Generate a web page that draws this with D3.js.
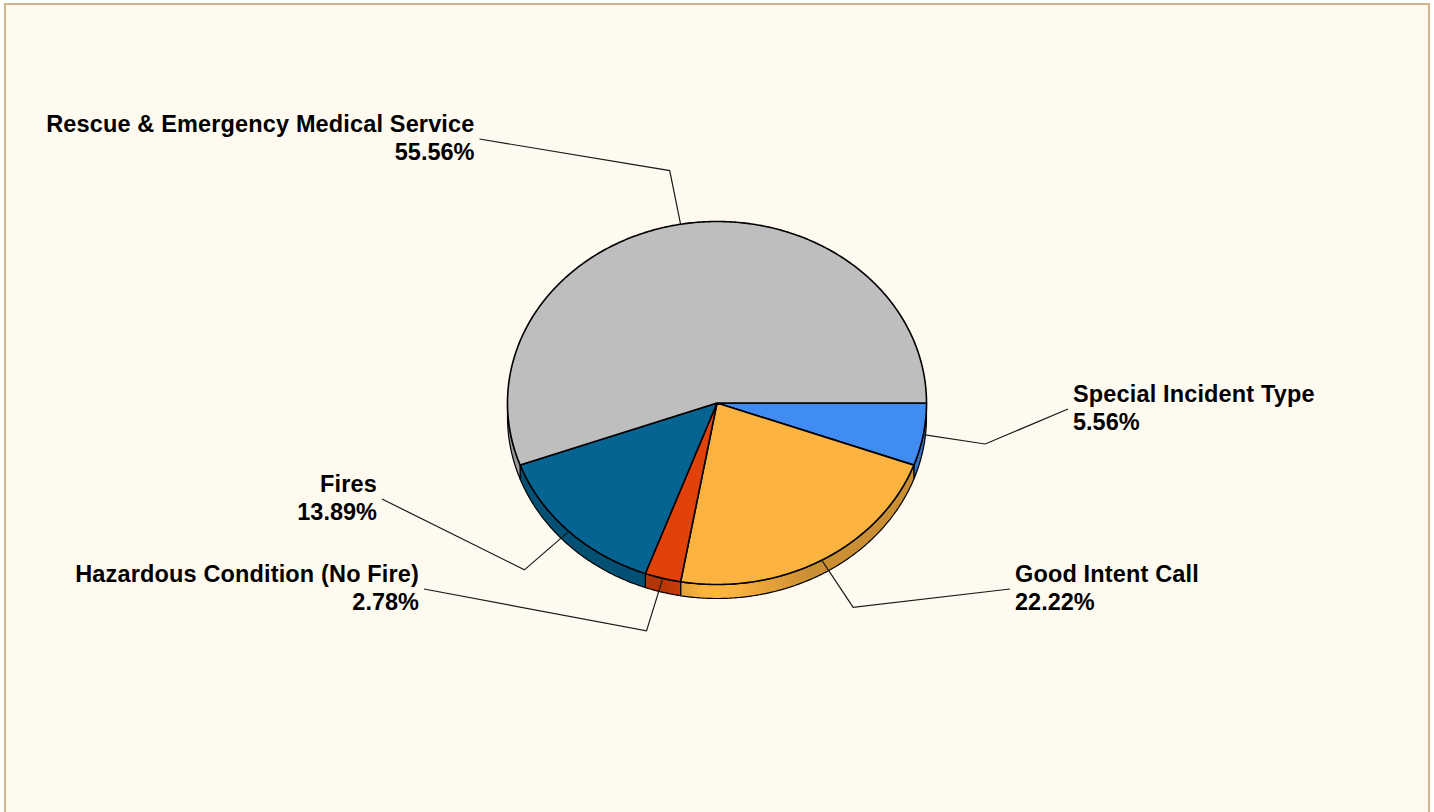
<!DOCTYPE html>
<html>
<head>
<meta charset="utf-8">
<script src="https://cdn.jsdelivr.net/npm/d3@7"></script>
<style>
    html, body { margin: 0; padding: 0; background: #fff; overflow: hidden; }
    svg { display: block; }
</style>
</head>
<body>
<svg id="chart"></svg>
<script>
// slices in drawing order, clockwise from 3 o'clock
const categories = ['Special Incident Type', 'Good Intent Call', 'Hazardous Condition (No Fire)', 'Fires', 'Rescue & Emergency Medical Service'];
const percents = [5.56, 22.22, 2.78, 13.89, 55.56];
const colors = ['#408cf2', '#fcb340', '#e0420a', '#056491', '#bebebe'];

// label anchors, separate from the data
const labelX = [1073, 1015, 419, 377, 474.5];
const labelY = [402, 582, 582, 492, 132];
const labelSide = ['start', 'start', 'end', 'end', 'end'];

const width = 1434, height = 812;
const depth = 14;
const elbow = 1.3;

const svg = d3.select('#chart').attr('width', width).attr('height', height);

svg.append('rect')
    .attr('x', 5).attr('y', 4)
    .attr('width', 1424).attr('height', 830)
    .attr('fill', '#fffaf0')
    .attr('stroke', '#d2b48c')
    .attr('stroke-width', 2);

const x = d3.scaleLinear().domain([-1, 1]).range([507.5, 926.5]);
const y = d3.scaleLinear().domain([-1, 1]).range([221.5, 584.5]);

const pie = d3.pie().sort(null).startAngle(Math.PI / 2).endAngle(Math.PI * 2.5);
const slices = pie(percents);

// d3 angles: 0 at 12 o'clock, clockwise
const px = (a, r = 1) => x(r * Math.sin(a));
const py = (a, r = 1) => y(-r * Math.cos(a));

function arcPoints(a0, a1) {
    const n = Math.max(2, Math.ceil((a1 - a0) / 0.01));
    return d3.range(n + 1).map(i => a0 + (a1 - a0) * i / n).map(a => [px(a), py(a)]);
}

const line = d3.line();
const defs = svg.append('defs');

// the rim is lit near the middle of the pie and falls off to both sides
const shadeStops = [[0, 0.2], [0.36, 0.2], [0.47, 0], [0.54, 0], [0.72, 0.2], [1, 0.2]];
slices.forEach((d, i) => {
    const grad = defs.append('linearGradient')
        .attr('id', 'rim' + i)
        .attr('gradientUnits', 'userSpaceOnUse')
        .attr('x1', x(-1)).attr('x2', x(1))
        .attr('y1', 0).attr('y2', 0);
    shadeStops.forEach(s => {
        grad.append('stop')
            .attr('offset', s[0])
            .attr('stop-color', d3.interpolateRgb(colors[i], '#000')(s[1]));
    });
});

// rim: only the part of each slice on the front half
const rim = svg.append('g');
slices.forEach((d, i) => {
    const a0 = d.startAngle, a1 = Math.min(d.endAngle, Math.PI * 1.5);
    if (a1 <= a0) return;
    const top = arcPoints(a0, a1);
    const bottom = top.map(p => [p[0], p[1] + depth]).reverse();
    rim.append('path')
        .attr('d', line(top.concat(bottom)) + 'Z')
        .attr('fill', `url(#rim${i})`)
        .attr('stroke', '#000')
        .attr('stroke-width', 1.2)
        .attr('stroke-linejoin', 'round');
});

// top faces
const faces = svg.append('g');
slices.forEach((d, i) => {
    const pts = [[x(0), y(0)]].concat(arcPoints(d.startAngle, d.endAngle));
    faces.append('path')
        .attr('d', line(pts) + 'Z')
        .attr('fill', colors[i])
        .attr('stroke', '#000')
        .attr('stroke-width', 1.6)
        .attr('stroke-linejoin', 'round');
});

// leader lines and labels
const labels = svg.append('g')
    .attr('font-family', '"Liberation Sans", Arial, sans-serif')
    .attr('font-weight', 'bold')
    .attr('font-size', 23.5)
    .attr('fill', '#000');

slices.forEach((d, i) => {
    const mid = (d.startAngle + d.endAngle) / 2;
    const dir = labelSide[i] === 'start' ? -1 : 1;
    svg.append('path')
        .attr('d', line([
            [px(mid), py(mid)],
            [px(mid, elbow), py(mid, elbow)],
            [labelX[i] + dir * 5, labelY[i] + 7]
        ]))
        .attr('fill', 'none')
        .attr('stroke', '#1a1a1a')
        .attr('stroke-width', 1.2);

    labels.append('text')
        .attr('x', labelX[i]).attr('y', labelY[i])
        .attr('text-anchor', labelSide[i])
        .attr('letter-spacing', 0.15)
        .text(categories[i]);
    labels.append('text')
        .attr('x', labelX[i]).attr('y', labelY[i] + 28)
        .attr('text-anchor', labelSide[i])
        .text(percents[i].toFixed(2) + '%');
});
</script>
</body>
</html>
